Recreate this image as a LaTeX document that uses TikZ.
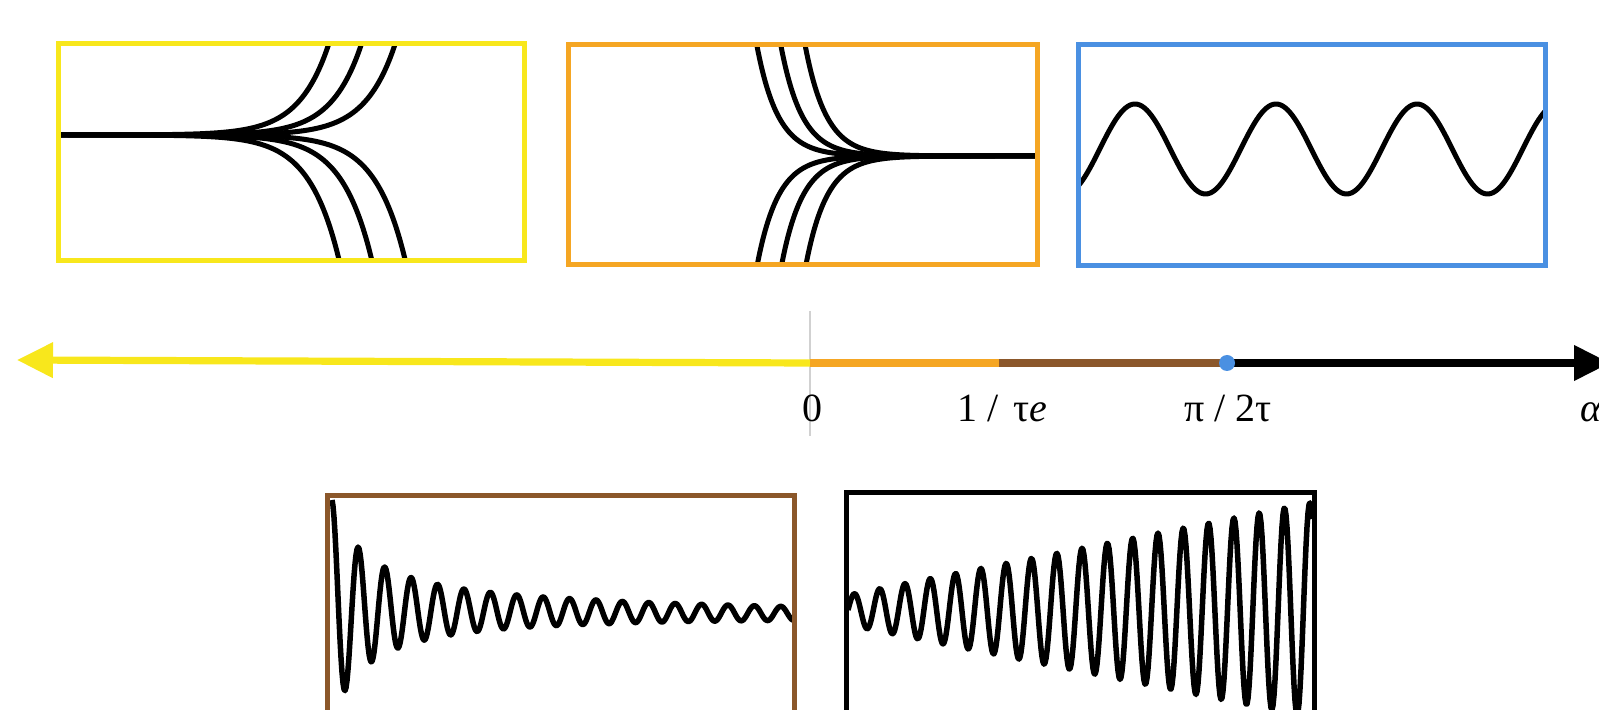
\documentclass[tikz,border=0pt]{standalone}
\usepackage{fontspec}
\setmainfont{Liberation Serif}
\usetikzlibrary{arrows.meta}
\definecolor{cyellow}{HTML}{F8E71C}
\definecolor{corange}{HTML}{F5A623}
\definecolor{cblue}{HTML}{4A90E2}
\definecolor{cbrown}{HTML}{8B572A}
\begin{document}
\begin{tikzpicture}[x=0.5pt,y=-0.5pt,
  frame/.style={line width=2.5pt},
  curve/.style={line width=2.5pt, black, line join=round},
  curvetwo/.style={line width=2.75pt, black, line join=round},
  axis/.style={line width=3.6pt},
  lbl/.style={font=\fontsize{20}{24}\selectfont, anchor=base, inner sep=0pt}]
\useasboundingbox (0,0) rectangle (1599,710);
\clip (0,0) rectangle (1599,710);

% ---- yellow panel: exponential growth ----
\foreach \xe in {328.9,361.6,395.3}
  \draw[curve] plot[domain=60:\xe, samples=120, smooth] (\x, {135-91.5*exp((\x-\xe)/30)});
\foreach \xe in {339.2,371.9,405.3}
  \draw[curve] plot[domain=60:\xe, samples=120, smooth] (\x, {135+125.5*exp((\x-\xe)/30)});
\draw[frame, cyellow] (58,43.5) rectangle (524,260.5);

% ---- orange panel: exponential decay ----
\foreach \xe in {756.7,780.7,805}
  \draw[curve] plot[domain=\xe:1036, samples=120, smooth] (\x, {156-111.5*exp((\xe-\x)/21)});
\foreach \xe in {757.3,781.7,806}
  \draw[curve] plot[domain=\xe:1036, samples=120, smooth] (\x, {156+108.5*exp((\xe-\x)/21)});
\draw[frame, corange] (568.5,44.5) rectangle (1037.5,264.5);

% ---- blue panel: pure oscillation ----
\draw[curve] plot[domain=1078.5:1545.5, samples=200, smooth] (\x, {149-45*sin((\x-1099.75)/141*360)});
\draw[frame, cblue] (1078.5,44.5) rectangle (1545.5,265.5);

% ---- axis ----
\coordinate (zero) at (810,363);
\coordinate (ltip) at (17,360);
\coordinate (inv) at (999,363);
\coordinate (crit) at (1227,363);
\coordinate (rtip) at (1610,363);
\coordinate (gtop) at (810,311);
\coordinate (gbot) at (810,436);
\draw[line width=0.6pt, black!18] (gtop) -- (gbot);
\draw[axis, cyellow, -{Triangle[length=18pt,width=17pt]}] (zero) -- (ltip);
\draw[axis, corange] (zero) -- (inv);
\draw[axis, cbrown] (inv) -- (crit);
\draw[axis, black, -{Triangle[length=18pt,width=17pt]}] (crit) -- (rtip);
\fill[cblue] (crit) circle[radius=8];

\node[lbl] (l0) at (812,422) {0};
\node[lbl] (l1) at (1002,422) {1\hspace{0.26em}/\hspace{0.36em}τ\textit{e}};
\node[lbl] (l2) at (1228,422) {π\hspace{0.25em}/\hspace{0.25em}2τ};
\node[lbl, anchor=base west] (l3) at (1580,422) {\textit{α}};

% ---- brown panel: damped oscillation ----
\draw[curvetwo] plot[domain=332:793, samples=461] (\x, {610+3.5*(\x-332)/461-110*pow(40/(\x-292),1.1)*cos((\x-332)/26.4*360)});
\draw[frame, cbrown] (327.5,495.5) rectangle (794.5,740);

% ---- black panel: growing oscillation ----
\draw[curvetwo] plot[domain=848:1312, samples=465] (\x, {610-(15+0.2*(\x-848))*sin((\x-848)/25.3*360)});
\draw[frame, black] (846.5,492.5) rectangle (1314.5,740);
\end{tikzpicture}
\end{document}
